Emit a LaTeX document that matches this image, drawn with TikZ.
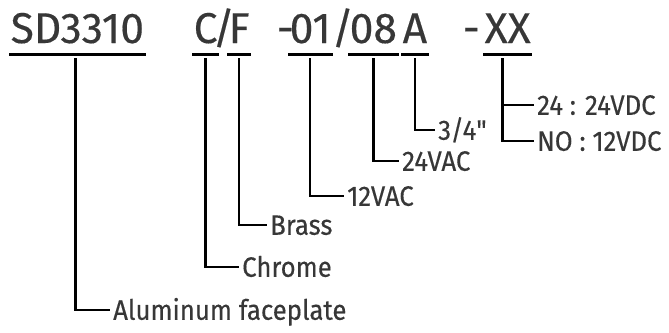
\documentclass[tikz,border=0pt]{standalone}
\usepackage{fontspec}
\setmainfont{Fira Sans}
\newfontfamily\codefont{Fira Sans}[FakeStretch=0.99,FakeBold=0.3]
\newfontfamily\choicefont{Fira Sans}[FakeStretch=0.92,FakeBold=0.3]
\usetikzlibrary{positioning}
\definecolor{inkgray}{RGB}{55,55,55}

\begin{document}
\begin{tikzpicture}[
  x=1pt,y=-1pt,
  code/.style={anchor=base west,inner xsep=1.5pt,inner ysep=0pt,text depth=0pt,font=\codefont\fontsize{43}{43}\selectfont,text=inkgray},
  choice/.style={anchor=west,inner xsep=3pt,inner ysep=0pt,text height=19.5pt,text depth=0pt,font=\choicefont\fontsize{28}{28}\selectfont,text=inkgray},
  uline/.style={line width=3pt},
  link/.style={line width=2.4pt}
]
  \useasboundingbox (0,0) rectangle (669,332);
  % model code
  \node[code] (series) at (9,43) {SD3310};
  \node[code] (chrm) at (192,43) {C};
  \node[code] (sep1) at (211,43) {/};
  \node[code] (brs) at (227,43) {F};
  \node[code] (dash1) at (275,43) {-};
  \node[code] (ac12) at (288,43) {01};
  \node[code] (sep2) at (330,43) {/};
  \node[code] (ac24) at (348,43) {08};
  \node[code] (sz) at (401,43) {A};
  \node[code] (dash2) at (461,43) {-};
  \node[code] (dc) at (483,43) {XX};
  % underlines
  \foreach \n in {series,chrm,brs,ac12,ac24,sz,dc}
    \draw[uline] ([yshift=-11.5pt]\n.base west) -- ([yshift=-11.5pt]\n.base east);
  % options
  \node[choice] (alu) at (110,310) {Aluminum faceplate};
  \node[choice] (chrome) at (239,267) {Chrome};
  \node[choice] (brass) at (267,225) {Brass};
  \node[choice] (v12ac) at (344,196) {12VAC};
  \node[choice] (v24ac) at (399,161) {24VAC};
  \node[choice] (size) at (435,130) {3/4\textquotedbl};
  \node[choice] (v24dc) at (534,105) {24 : 24VDC};
  \node[choice] (v12dc) at (534,141) {NO : 12VDC};
  % leaders
  \draw[link] ([xshift=-2pt,yshift=-15pt]series.base) |- (alu.west);
  \draw[link] ([yshift=-15pt]chrm.base) |- (chrome.west);
  \draw[link] ([yshift=-15pt]brs.base) |- (brass.west);
  \draw[link] ([yshift=-15pt]ac12.base) |- (v12ac.west);
  \draw[link] ([yshift=-15pt]ac24.base) |- (v24ac.west);
  \draw[link] ([yshift=-15pt]sz.base) |- (size.west);
  \coordinate (dcleg) at ([xshift=-5pt,yshift=-15pt]dc.base);
  \draw[link] (dcleg) |- (v12dc.west);
  \draw[link] (dcleg |- v24dc.west) -- (v24dc.west);
\end{tikzpicture}
\end{document}
